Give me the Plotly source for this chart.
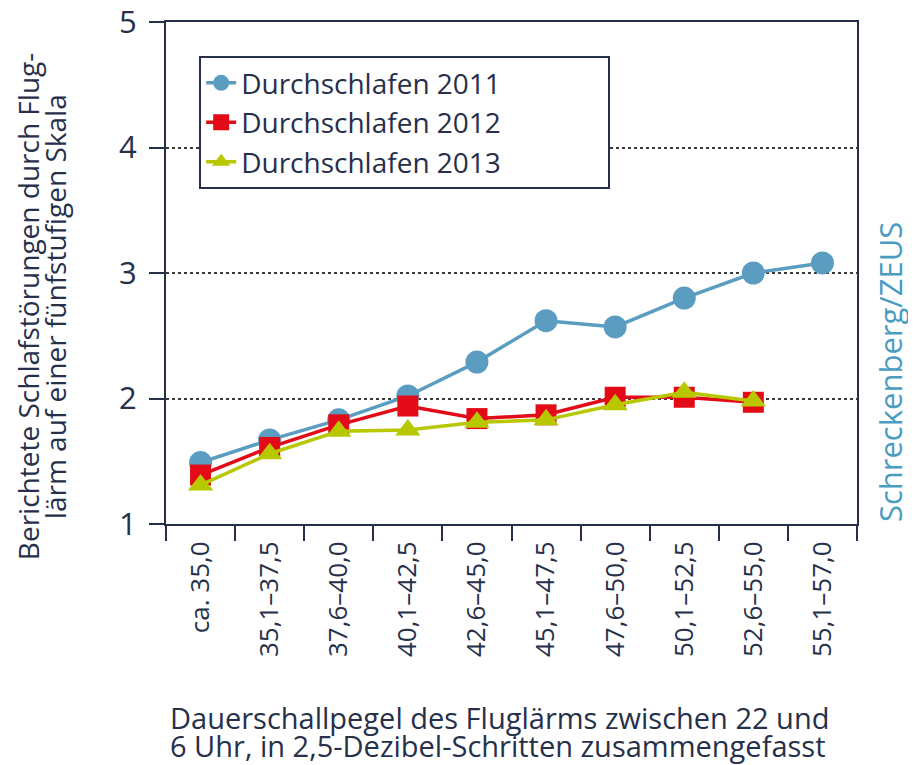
import plotly.graph_objects as go

categories = ["ca. 35,0", "35,1–37,5", "37,6–40,0", "40,1–42,5", "42,6–45,0",
              "45,1–47,5", "47,6–50,0", "50,1–52,5", "52,6–55,0", "55,1–57,0"]
series_2011 = [1.49, 1.67, 1.83, 2.02, 2.29, 2.62, 2.57, 2.80, 3.00, 3.08]
series_2012 = [1.39, 1.61, 1.79, 1.94, 1.84, 1.87, 2.01, 2.01, 1.97]
series_2013 = [1.31, 1.56, 1.74, 1.75, 1.81, 1.83, 1.95, 2.05, 1.98]
y_ticks = [1, 2, 3, 4, 5]

NAVY = "#27304a"
FONT = "Open Sans"

fig = go.Figure()
fig.add_trace(go.Scatter(
    x=categories, y=series_2011, name="Durchschlafen 2011", mode="lines+markers",
    line=dict(color="#5a9dc1", width=3.5),
    marker=dict(symbol="circle", size=23, color="#5a9dc1")))
fig.add_trace(go.Scatter(
    x=categories[:len(series_2012)], y=series_2012, name="Durchschlafen 2012", mode="lines+markers",
    line=dict(color="#e30b17", width=3.5),
    marker=dict(symbol="square", size=21, color="#e30b17")))
fig.add_trace(go.Scatter(
    x=categories[:len(series_2013)], y=series_2013, name="Durchschlafen 2013", mode="lines+markers",
    line=dict(color="#b8c800", width=3.5),
    marker=dict(symbol="triangle-up", size=22, color="#b8c800")))

title_font = dict(size=28, color=NAVY, family=FONT)

fig.update_layout(
    width=908, height=757,
    margin=dict(l=158, r=59, t=14, b=241, autoexpand=False),
    paper_bgcolor="white", plot_bgcolor="white",
    font=dict(family=FONT, color=NAVY),
    showlegend=True,
    legend=dict(x=0.048, y=0.932, xanchor="left", yanchor="top",
                orientation="h", entrywidth=362, entrywidthmode="pixels",
                bgcolor="white", bordercolor=NAVY, borderwidth=2,
                font=dict(size=28, color=NAVY), tracegroupgap=0,
                itemsizing="trace"),
    xaxis=dict(
        type="category", categoryorder="array", categoryarray=categories,
        range=[-0.5, len(categories) - 0.5], automargin=False,
        showline=True, linecolor=NAVY, linewidth=2, mirror=True,
        ticks="outside", ticklen=15, tickwidth=2, tickcolor=NAVY,
        tickson="boundaries", tickangle=-90, ticklabelstandoff=5,
        tickfont=dict(size=26, color=NAVY),
        showgrid=False, zeroline=False),
    yaxis=dict(
        range=[1, 5], tickvals=y_ticks, automargin=False,
        showline=True, linecolor=NAVY, linewidth=2, mirror=True,
        ticks="outside", ticklen=15, tickwidth=2, tickcolor=NAVY,
        tickfont=dict(size=31, color=NAVY), ticklabelstandoff=6,
        ticklabeloverflow="allow",
        showgrid=True, gridcolor="#3a3a3a", gridwidth=1.5, griddash="dot",
        zeroline=False),
    annotations=[
        dict(text="Berichtete Schlafstörungen durch Flug-",
             xref="paper", yref="paper", x=-0.1997, y=0.432, xanchor="center", yanchor="middle",
             textangle=-90, showarrow=False, font=title_font),
        dict(text="lärm auf einer fünfstufigen Skala",
             xref="paper", yref="paper", x=-0.1606, y=0.432, xanchor="center", yanchor="middle",
             textangle=-90, showarrow=False, font=title_font),
        dict(text="Dauerschallpegel des Fluglärms zwischen 22 und",
             xref="paper", yref="paper", x=0.003, y=-0.3845, xanchor="left", yanchor="middle",
             showarrow=False, font=dict(size=29, color=NAVY, family=FONT)),
        dict(text="6 Uhr, in 2,5-Dezibel-Schritten zusammengefasst",
             xref="paper", yref="paper", x=0.003, y=-0.442, xanchor="left", yanchor="middle",
             showarrow=False, font=dict(size=29, color=NAVY, family=FONT)),
        dict(text="Schreckenberg/ZEUS",
             xref="paper", yref="paper", x=1.048, y=0.303, xanchor="center", yanchor="middle",
             textangle=-90, showarrow=False, font=dict(size=31, color="#4a9cc2", family=FONT)),
    ],
)

fig.write_html("out.html")
